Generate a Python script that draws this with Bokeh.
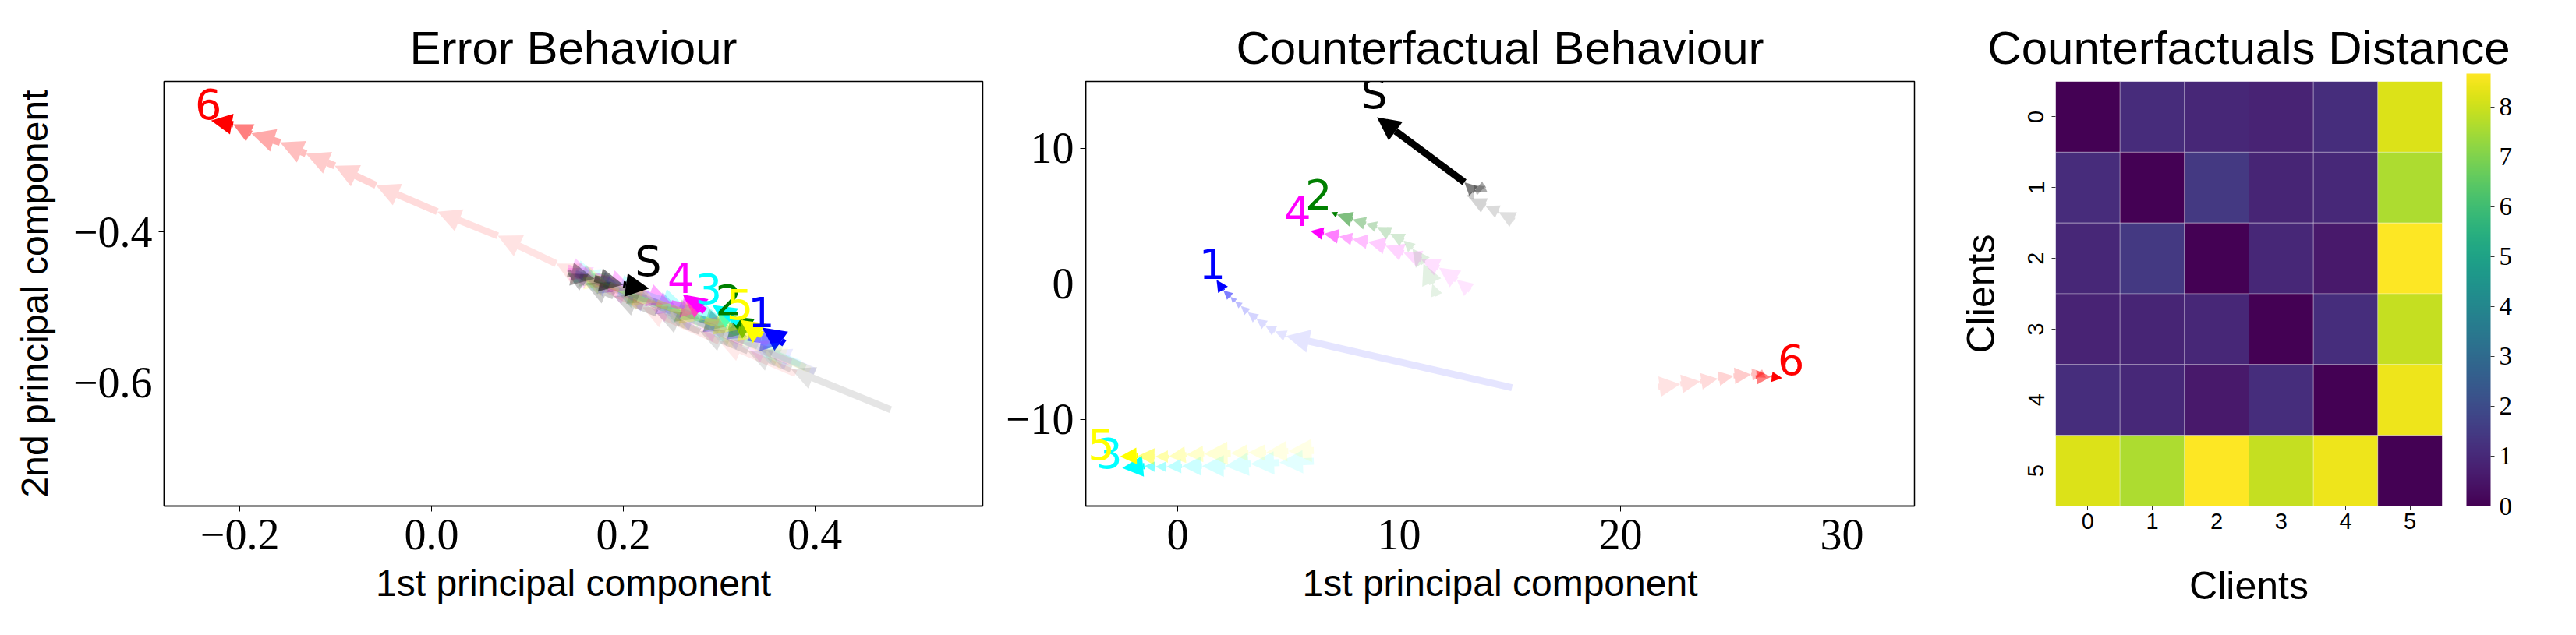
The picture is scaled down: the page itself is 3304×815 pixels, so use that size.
import math
from bokeh.plotting import figure
from bokeh.models import (ColumnDataSource, Arrow, NormalHead, Range1d, FixedTicker,
                          LinearColorMapper, ColorBar)
from bokeh.layouts import row
from bokeh.palettes import Viridis256
from bokeh.core.properties import value, field
from bokeh.embed import file_html
from bokeh.resources import INLINE

# ---------------- data ----------------
names = ["1", "2", "3", "4", "5", "6", "S"]
colors = ["#0000ff", "#008000", "#00ffff", "#ff00ff", "#ffff00", "#ff0000", "#000000"]

# Error Behaviour trajectories (PCA of errors), start -> end
err_x = {
    "1": [0.40, 0.35, 0.30, 0.25, 0.20, 0.16, 0.15, 0.20, 0.26, 0.31, 0.33, 0.368, 0.345],
    "2": [0.39, 0.34, 0.29, 0.24, 0.19, 0.155, 0.18, 0.23, 0.28, 0.31, 0.335, 0.31],
    "3": [0.385, 0.335, 0.285, 0.235, 0.19, 0.15, 0.175, 0.22, 0.265, 0.30, 0.32, 0.293],
    "4": [0.375, 0.325, 0.275, 0.225, 0.18, 0.142, 0.17, 0.21, 0.25, 0.285, 0.262],
    "5": [0.395, 0.345, 0.295, 0.245, 0.195, 0.158, 0.185, 0.235, 0.285, 0.32, 0.345, 0.322],
    "6": [0.38, 0.30, 0.22, 0.13, 0.069, 0.006, -0.058, -0.101, -0.131, -0.158, -0.188, -0.207, -0.23],
    "S": [0.479, 0.375, 0.33, 0.28, 0.235, 0.19, 0.16, 0.142, 0.17, 0.20, 0.227],
}
err_y = {
    "1": [-0.585, -0.557, -0.53, -0.505, -0.48, -0.46, -0.455, -0.478, -0.505, -0.53, -0.54, -0.548, -0.527],
    "2": [-0.58, -0.552, -0.526, -0.5, -0.475, -0.457, -0.468, -0.492, -0.515, -0.525, -0.532, -0.512],
    "3": [-0.575, -0.55, -0.523, -0.497, -0.473, -0.452, -0.462, -0.482, -0.5, -0.512, -0.52, -0.497],
    "4": [-0.573, -0.547, -0.52, -0.494, -0.47, -0.448, -0.458, -0.476, -0.495, -0.505, -0.483],
    "5": [-0.583, -0.556, -0.529, -0.503, -0.478, -0.46, -0.47, -0.494, -0.517, -0.53, -0.537, -0.517],
    "6": [-0.588, -0.545, -0.50, -0.442, -0.405, -0.373, -0.338, -0.312, -0.296, -0.281, -0.269, -0.257, -0.252],
    "S": [-0.636, -0.582, -0.558, -0.532, -0.508, -0.485, -0.468, -0.455, -0.462, -0.47, -0.475],
}
err_label_x = [0.344, 0.310, 0.289, 0.260, 0.3215, -0.233, 0.226]
err_label_y = [-0.526, -0.510, -0.495, -0.481, -0.516, -0.250, -0.472]

# Counterfactual Behaviour trajectories, start -> end
cf_x = {
    "1": [15.1, 4.9, 4.4, 3.96, 3.56, 3.17, 2.86, 2.6, 2.39, 2.07, 1.76],
    "2": [11.7, 11.5, 11.1, 10.6, 10.2, 9.6, 9.0, 8.5, 7.9, 7.2, 6.94],
    "3": [6.15, 4.6, 3.3, 2.15, 1.1, 0.2, -0.5, -1.0, -1.5, -2.5],
    "4": [13.2, 12.6, 11.8, 11.0, 10.2, 9.4, 8.6, 7.9, 7.3, 6.6, 6.0],
    "5": [6.15, 5.0, 4.0, 3.2, 2.4, 1.2, 0.4, -0.4, -1.0, -1.8, -2.6],
    "6": [21.7, 22.7, 23.6, 24.4, 25.1, 25.9, 26.5, 26.1, 26.8, 27.3],
    "S": [15.2, 14.5, 13.9, 13.2, 13.4, 13.9, 13.4, 12.95, 9.0],
}
cf_y = {
    "1": [-7.66, -3.85, -3.5, -3.07, -2.59, -2.1, -1.63, -1.3, -0.96, -0.48, 0.29],
    "2": [-0.9, 0.0, 1.5, 2.6, 3.2, 3.7, 4.2, 4.45, 4.75, 5.1, 5.29],
    "3": [-13.1, -13.2, -13.3, -13.45, -13.45, -13.45, -13.5, -13.5, -13.45, -13.6],
    "4": [-0.5, 0.3, 1.2, 1.8, 2.3, 2.8, 3.1, 3.3, 3.5, 3.7, 3.9],
    "5": [-12.3, -12.35, -12.45, -12.45, -12.5, -12.55, -12.6, -12.75, -12.75, -12.7, -12.75],
    "6": [-7.6, -7.4, -7.2, -7.0, -6.8, -6.7, -6.6, -6.9, -6.85, -6.95],
    "S": [4.7, 5.3, 5.75, 6.3, 6.9, 7.2, 6.8, 7.5, 12.3],
}
cf_label_x = [1.57, 6.36, -3.1, 5.42, -3.45, 27.7, 8.87]
cf_label_y = [0.35, 5.46, -13.6, 4.3, -13.0, -6.7, 12.2]

# Counterfactuals distance matrix
clients = [0, 1, 2, 3, 4, 5]
dist = [
    [0.00, 1.10, 0.95, 0.85, 1.15, 8.20],
    [1.10, 0.00, 1.45, 0.90, 1.00, 7.60],
    [0.95, 1.45, 0.00, 0.95, 0.60, 8.67],
    [0.85, 0.90, 0.95, 0.00, 1.15, 7.90],
    [1.15, 1.00, 0.60, 1.15, 0.00, 8.45],
    [8.20, 7.60, 8.67, 7.90, 8.45, 0.00],
]
dist_max = 8.67

# ---------------- styles ----------------
TITLE_FONT = "Liberation Sans"
TICK_FONT = "Liberation Serif"
H = 799


def style_title(p):
    p.title.text_font = TITLE_FONT
    p.title.text_font_size = "60px"
    p.title.text_font_style = "normal"
    p.title.text_color = "black"
    p.title.align = "center"
    p.title.standoff = 20


def style_axes(p):
    p.outline_line_color = "black"
    p.outline_line_width = 1.5
    p.xgrid.visible = False
    p.ygrid.visible = False
    for ax in (p.xaxis[0], p.yaxis[0]):
        ax.axis_line_color = "black"
        ax.axis_line_width = 1.5
        ax.major_tick_out = 7
        ax.major_tick_in = 0
        ax.major_tick_line_color = "black"
        ax.minor_tick_line_color = None
        ax.major_label_text_font = TICK_FONT
        ax.major_label_text_font_size = "56px"
        ax.major_label_text_color = "black"
        ax.axis_label_text_font = TITLE_FONT
        ax.axis_label_text_font_size = "48px"
        ax.axis_label_text_font_style = "normal"
        ax.axis_label_text_color = "black"
    p.xaxis.major_label_standoff = 10
    p.yaxis.major_label_standoff = 8
    style_title(p)


def add_trajectories(p, xs_d, ys_d, sx, sy, label_x, label_y):
    for name, col in zip(names, colors):
        xs, ys = xs_d[name], ys_d[name]
        n = len(xs)
        d = dict(x0=[], y0=[], x1=[], y1=[], c=[], a=[], w=[], hs=[])
        for j in range(n - 1):
            k = n - 1 - j
            L = math.hypot((xs[j + 1] - xs[j]) * sx, (ys[j + 1] - ys[j]) * sy)
            s = min(1.0, L / 32.0)
            d["x0"].append(xs[j]); d["y0"].append(ys[j])
            d["x1"].append(xs[j + 1]); d["y1"].append(ys[j + 1])
            d["c"].append(col); d["a"].append(1.0 / k)
            d["w"].append(9 * s); d["hs"].append(max(4.0, 30 * s))
        src = ColumnDataSource(d)
        head = NormalHead(size=field("hs"), fill_color=field("c"), fill_alpha=field("a"),
                          line_color=None)
        arr = Arrow(x_start="x0", y_start="y0", x_end="x1", y_end="y1", source=src,
                    line_color=field("c"), line_alpha=field("a"), line_width=field("w"),
                    line_cap="butt", end=head, level="underlay")
        p.add_layout(arr)
    lsrc = ColumnDataSource(dict(x=label_x, y=label_y, t=names, c=colors))
    p.text(x="x", y="y", text="t", text_color="c", source=lsrc,
           text_font=value("DejaVu Sans"), text_font_size="54px",
           text_align="center", text_baseline="bottom")


# ---------------- panel 1 ----------------
x1r = (-0.279, 0.575)
y1r = (-0.764, -0.2)
p1 = figure(width=1277, height=H, output_backend="svg", toolbar_location=None,
            x_range=Range1d(*x1r), y_range=Range1d(*y1r), title="Error Behaviour",
            min_border_left=210, min_border_right=17, min_border_top=104, min_border_bottom=150)
style_axes(p1)
p1.xaxis.axis_label = "1st principal component"
p1.yaxis.axis_label = "2nd principal component"
p1.yaxis.axis_label_standoff = 20
p1.xaxis.axis_label_standoff = 14
p1.xaxis.ticker = FixedTicker(ticks=[-0.2, 0.0, 0.2, 0.4])
p1.yaxis.ticker = FixedTicker(ticks=[-0.6, -0.4])
p1.xaxis.major_label_overrides = {-0.2: "\u22120.2", 0.0: "0.0", 0.2: "0.2", 0.4: "0.4"}
p1.yaxis.major_label_overrides = {-0.6: "\u22120.6", -0.4: "\u22120.4"}
sx1 = 1050 / (x1r[1] - x1r[0])
sy1 = 545 / (y1r[1] - y1r[0])
add_trajectories(p1, err_x, err_y, sx1, sy1, err_label_x, err_label_y)

# ---------------- panel 2 ----------------
x2r = (-4.15, 33.27)
y2r = (-16.4, 14.94)
p2 = figure(width=1195, height=H, output_backend="svg", toolbar_location=None,
            x_range=Range1d(*x2r), y_range=Range1d(*y2r), title="Counterfactual Behaviour",
            min_border_left=115, min_border_right=17, min_border_top=104, min_border_bottom=150)
style_axes(p2)
p2.xaxis.axis_label = "1st principal component"
p2.xaxis.axis_label_standoff = 14
p2.xaxis.ticker = FixedTicker(ticks=[0, 10, 20, 30])
p2.yaxis.ticker = FixedTicker(ticks=[-10, 0, 10])
p2.yaxis.major_label_overrides = {-10: "\u221210", 0: "0", 10: "10"}
sx2 = 1063 / (x2r[1] - x2r[0])
sy2 = 545 / (y2r[1] - y2r[0])
add_trajectories(p2, cf_x, cf_y, sx2, sy2, cf_label_x, cf_label_y)

# ---------------- panel 3 (heatmap) ----------------
p3 = figure(width=816, height=H, output_backend="svg", toolbar_location=None,
            x_range=Range1d(-0.5, 5.5), y_range=Range1d(5.5, -0.5),
            title="Counterfactuals Distance",
            min_border_left=164, min_border_right=156, min_border_top=104, min_border_bottom=140)
p3.outline_line_color = None
p3.xgrid.visible = False
p3.ygrid.visible = False
style_title(p3)
p3.title.offset = 24
mapper = LinearColorMapper(palette=Viridis256, low=0, high=dist_max)
hx, hy, hv = [], [], []
for i, r in enumerate(dist):
    for j, v in enumerate(r):
        hx.append(clients[j]); hy.append(clients[i]); hv.append(v)
hsrc = ColumnDataSource(dict(x=hx, y=hy, v=hv))
p3.rect(x="x", y="y", width=1, height=1, source=hsrc,
        fill_color={"field": "v", "transform": mapper},
        line_color="white", line_alpha=0.3, line_width=1)
for ax in (p3.xaxis[0], p3.yaxis[0]):
    ax.ticker = FixedTicker(ticks=clients)
    ax.axis_line_color = None
    ax.major_tick_out = 5
    ax.major_tick_in = 0
    ax.major_tick_line_color = "#333333"
    ax.minor_tick_line_color = None
    ax.major_label_text_font = "Liberation Sans"
    ax.major_label_text_font_size = "29px"
    ax.major_label_text_color = "black"
    ax.axis_label = "Clients"
    ax.axis_label_text_font = TITLE_FONT
    ax.axis_label_text_font_size = "50px"
    ax.axis_label_text_font_style = "normal"
    ax.axis_label_text_color = "black"
p3.yaxis.major_label_orientation = "vertical"
p3.yaxis.major_label_standoff = 10
p3.xaxis.major_label_standoff = 4
p3.xaxis.axis_label_standoff = 42
p3.yaxis.axis_label_standoff = 30

cb = ColorBar(color_mapper=mapper, width=31, height=555, margin=0, padding=0,
              location=(31, 0), ticker=FixedTicker(ticks=list(range(9))),
              major_tick_out=5, major_tick_in=0, major_tick_line_color="#333333",
              bar_line_color=None, label_standoff=6,
              major_label_text_font=TICK_FONT, major_label_text_font_size="33px",
              major_label_text_color="black", background_fill_alpha=0)
p3.add_layout(cb, "right")

layout = row(p1, p2, p3)
open("out.html", "w").write(file_html(layout, INLINE))
